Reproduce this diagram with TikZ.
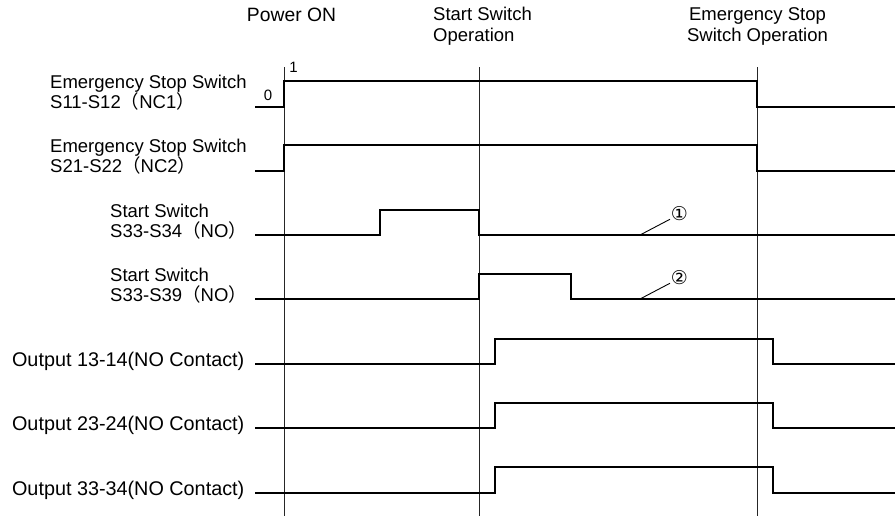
\documentclass[tikz,border=0pt]{standalone}
\usepackage{fontspec}
\setmainfont{Liberation Sans}
\newfontfamily\cjk{Noto Sans CJK JP}
\newfontfamily\symf{DejaVu Sans}
\newcommand{\lp}{{\cjk （}}
\newcommand{\rp}{{\cjk ）}}
\begin{document}
\begin{tikzpicture}[x=1pt,y=-1pt,
  sig/.style={line width=2.8pt, line join=miter, line cap=butt},
  guide/.style={line width=1pt, black!85},
  leader/.style={line width=0.9pt},
  lbl/.style={font=\fontsize{18.5}{21}\selectfont, inner sep=0pt},
  biglbl/.style={font=\fontsize{19.8}{22}\selectfont, inner sep=0pt},
  lvl/.style={font=\fontsize{15}{17}\selectfont, inner sep=0pt},
  circnum/.style={font=\symf\fontsize{19}{21}\selectfont, inner sep=0pt, circle, minimum size=14pt}]
\useasboundingbox (0,0) rectangle (895,517);

% guide lines
\coordinate (g1t) at (284,67);  \coordinate (g1b) at (284,516);
\coordinate (g2t) at (479,67);  \coordinate (g2b) at (479,516);
\coordinate (g3t) at (757,67);  \coordinate (g3b) at (757,516);
\draw[guide] (g1t) -- (g1b);
\draw[guide] (g2t) -- (g2b);
\draw[guide] (g3t) -- (g3b);

% top labels
\node[lbl, font=\fontsize{19.3}{21}\selectfont, anchor=base] (pon) at (291.5,21.7) {Power ON};
\node[lbl, anchor=base west] (ss1) at (433,20.5) {Start Switch};
\node[lbl, anchor=base west] (ss2) at (433,41.5) {Operation};
\node[lbl, anchor=base] (es1) at (757.5,20.5) {Emergency Stop};
\node[lbl, anchor=base] (es2) at (757.5,41.5) {Switch Operation};

% left labels
\node[lbl, anchor=base west] (r1a) at (50,88.5) {Emergency Stop Switch};
\node[lbl, anchor=base west] (r1b) at (50,108) {S11-S12\lp NC1\rp};
\node[lbl, anchor=base west] (r2a) at (50,152.5) {Emergency Stop Switch};
\node[lbl, anchor=base west] (r2b) at (50,172) {S21-S22\lp NC2\rp};
\node[lbl, anchor=base west] (r3a) at (110,217) {Start Switch};
\node[lbl, anchor=base west] (r3b) at (110,237) {S33-S34\lp NO\rp};
\node[lbl, anchor=base west] (r4a) at (110,281) {Start Switch};
\node[lbl, anchor=base west] (r4b) at (110,301) {S33-S39\lp NO\rp};
\node[biglbl, anchor=base east] (r5) at (244.5,366.5) {Output 13-14(NO Contact)};
\node[biglbl, anchor=base east] (r6) at (244.5,430.5) {Output 23-24(NO Contact)};
\node[biglbl, anchor=base east] (r7) at (244.5,495.5) {Output 33-34(NO Contact)};

% level marks
\node[lvl, anchor=base] (l0) at (268,100) {0};
\node[lvl, anchor=base] (l1) at (293.5,72) {1};

% signals
\draw[sig] (255,107) -- (284,107) -- (284,81) -- (757,81) -- (757,107) -- (895,107);
\draw[sig] (255,171) -- (284,171) -- (284,145) -- (757,145) -- (757,171) -- (895,171);
\draw[sig] (255,235) -- (380,235) -- (380,210) -- (479,210) -- (479,235) -- (895,235);
\draw[sig] (255,299) -- (479,299) -- (479,274) -- (571,274) -- (571,299) -- (895,299);
\draw[sig] (255,364) -- (495,364) -- (495,339) -- (773,339) -- (773,364) -- (895,364);
\draw[sig] (255,428) -- (495,428) -- (495,403) -- (773,403) -- (773,428) -- (895,428);
\draw[sig] (255,493) -- (495,493) -- (495,467) -- (773,467) -- (773,493) -- (895,493);

% annotations
\node[circnum] (c1) at (679.5,213.3) {①};
\node[circnum] (c2) at (679.5,277.3) {②};
\coordinate (p1) at (640,235);
\coordinate (p2) at (640,299);
\draw[leader] (p1) -- (c1.212);
\draw[leader] (p2) -- (c2.212);
\end{tikzpicture}
\end{document}
